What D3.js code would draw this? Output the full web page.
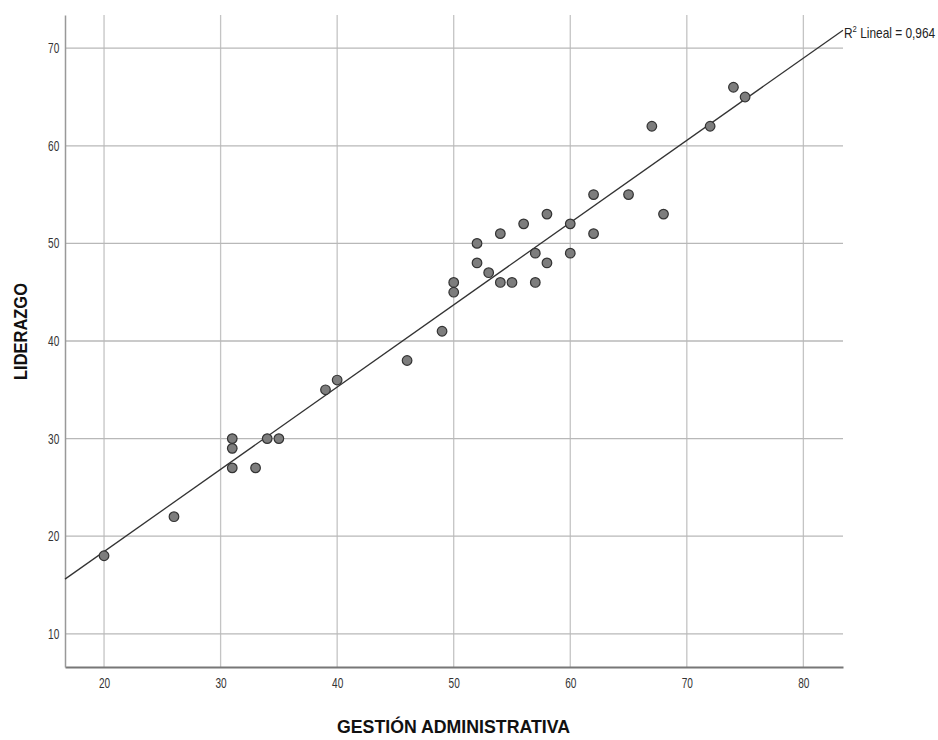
<!DOCTYPE html>
<html>
<head>
<meta charset="utf-8">
<script src="https://cdn.jsdelivr.net/npm/d3@7"></script>
<style>
  body { margin: 0; background: #fff; }
  .tick text { font-family: "Liberation Sans", Arial, sans-serif; font-size: 14px; fill: #333; }
  .title { font-family: "Liberation Sans", Arial, sans-serif; font-weight: bold; font-size: 18px; fill: #111; }
</style>
</head>
<body>
<script>
// Gestión administrativa (x) vs Liderazgo (y)
var gestion = [20, 26, 31, 31, 31, 33, 34, 35, 39, 40, 46, 49, 50, 50, 52, 52, 53, 54, 54, 55, 56, 57, 57, 58, 58, 60, 60, 62, 62, 65, 67, 68, 72, 74, 75];
var liderazgo = [18, 22, 30, 29, 27, 27, 30, 30, 35, 36, 38, 41, 46, 45, 50, 48, 47, 51, 46, 46, 52, 49, 46, 53, 48, 52, 49, 55, 51, 55, 62, 53, 62, 66, 65];
var xTicks = [20, 30, 40, 50, 60, 70, 80];
var yTicks = [10, 20, 30, 40, 50, 60, 70];
var r2Label = "0,964";

var width = 938, height = 740;
var pLeft = 65, pRight = 843, pTop = 15, pBottom = 667;

var svg = d3.select("body").append("svg")
  .attr("width", width)
  .attr("height", height);

var x = d3.scaleLinear().domain([16.65, 83.4]).range([pLeft, pRight]);
var y = d3.scaleLinear().domain([6.6, 73.4]).range([pBottom, pTop]);

// grid lines
svg.selectAll("line.vgrid")
  .data(xTicks)
  .enter().append("line")
  .attr("class", "vgrid")
  .attr("x1", function(d) { return x(d); })
  .attr("x2", function(d) { return x(d); })
  .attr("y1", pTop)
  .attr("y2", pBottom)
  .attr("stroke", "#c4c4c4")
  .attr("stroke-width", 1.3);

svg.selectAll("line.hgrid")
  .data(yTicks)
  .enter().append("line")
  .attr("class", "hgrid")
  .attr("x1", pLeft)
  .attr("x2", pRight)
  .attr("y1", function(d) { return y(d); })
  .attr("y2", function(d) { return y(d); })
  .attr("stroke", "#b8b8b8")
  .attr("stroke-width", 1.3);

// axes
var xAxis = svg.append("g")
  .attr("transform", "translate(0," + pBottom + ")")
  .call(d3.axisBottom(x).tickValues(xTicks).tickSize(0).tickPadding(11));
xAxis.select(".domain").attr("stroke", "#777").attr("stroke-width", 2);
xAxis.selectAll(".tick text").attr("transform", "scale(0.72,1)");

var yAxis = svg.append("g")
  .attr("transform", "translate(" + pLeft + ",0)")
  .call(d3.axisLeft(y).tickValues(yTicks).tickSize(0).tickPadding(8));
yAxis.select(".domain").attr("stroke", "#999").attr("stroke-width", 1.5);
yAxis.selectAll(".tick text").attr("transform", "scale(0.72,1)");

// regression line from the points
var n = gestion.length;
var mx = d3.mean(gestion), my = d3.mean(liderazgo);
var sxy = 0, sxx = 0;
for (var i = 0; i < n; i++) {
  sxy += (gestion[i] - mx) * (liderazgo[i] - my);
  sxx += (gestion[i] - mx) * (gestion[i] - mx);
}
var slope = sxy / sxx, inter = my - slope * mx;
var x0 = x.domain()[0], x1 = x.domain()[1];

svg.append("line")
  .attr("x1", x(x0))
  .attr("y1", y(inter + slope * x0))
  .attr("x2", x(x1))
  .attr("y2", y(inter + slope * x1))
  .attr("stroke", "#333")
  .attr("stroke-width", 1.3);

// points
svg.selectAll("circle")
  .data(gestion)
  .enter().append("circle")
  .attr("cx", function(d) { return x(d); })
  .attr("cy", function(d, i) { return y(liderazgo[i]); })
  .attr("r", 4.8)
  .attr("fill", "#7d7d7d")
  .attr("stroke", "#333")
  .attr("stroke-width", 1.2);

// R2 label
var r2 = svg.append("text")
  .attr("transform", "translate(" + (pRight + 1) + "," + (y(inter + slope * x1) + 8) + ") scale(0.85,1)")
  .attr("font-family", "'Liberation Sans', Arial, sans-serif")
  .attr("font-size", 14)
  .attr("fill", "#222");
r2.append("tspan").text("R");
r2.append("tspan").attr("dy", -6).attr("font-size", 9).text("2");
r2.append("tspan").attr("dy", 6).text(" Lineal = " + r2Label);

// axis titles
svg.append("text")
  .attr("class", "title")
  .attr("x", 337)
  .attr("y", 733)
  .attr("textLength", 233)
  .attr("lengthAdjust", "spacingAndGlyphs")
  .text("GESTIÓN ADMINISTRATIVA");

svg.append("text")
  .attr("class", "title")
  .attr("transform", "translate(27,380) rotate(-90)")
  .attr("textLength", 97)
  .attr("lengthAdjust", "spacingAndGlyphs")
  .text("LIDERAZGO");
</script>
</body>
</html>
